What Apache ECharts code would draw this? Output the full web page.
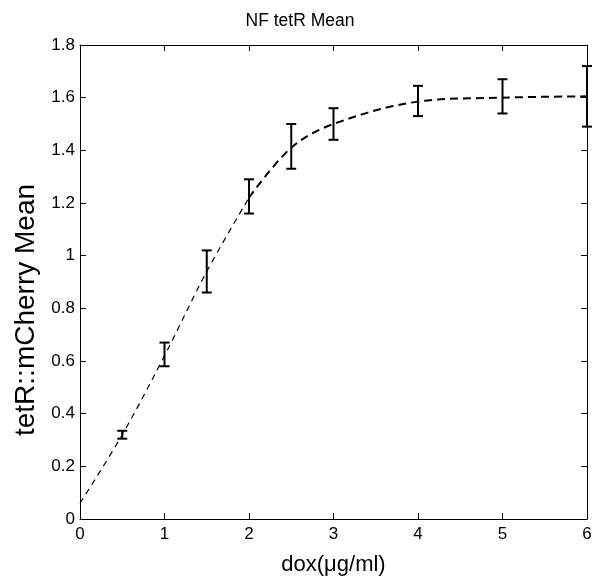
<!DOCTYPE html>
<html>
<head>
<meta charset="utf-8">
<script src="https://cdn.jsdelivr.net/npm/echarts@6/dist/echarts.min.js"></script>
<style>
  html, body { margin: 0; padding: 0; background: #fff; }
  #chart { width: 600px; height: 579px; }
</style>
</head>
<body>
<div id="chart"></div>
<script>
// dox concentration (ug/ml)
const dox = [0, 0.5, 1, 1.5, 2, 2.5, 3, 4, 5, 6];
// tetR::mCherry mean
const meanVals = [0.06, 0.32, 0.62, 0.94, 1.22, 1.41, 1.50, 1.585, 1.60, 1.605];
// error bar bounds
const errLow = [0.06, 0.305, 0.58, 0.86, 1.16, 1.33, 1.44, 1.53, 1.54, 1.49];
const errHigh = [0.06, 0.335, 0.67, 1.02, 1.29, 1.50, 1.56, 1.645, 1.67, 1.72];

const chart = echarts.init(document.getElementById('chart'));

const font = 'Liberation Sans, Arial, sans-serif';

const lineData = dox.map((x, i) => [x, meanVals[i]]);
const errData = dox.map((x, i) => [x, errLow[i], errHigh[i]]).filter((d, i) => i > 0);

function renderErr(params, api) {
  const x = api.value(0);
  const lo = api.coord([x, api.value(1)]);
  const hi = api.coord([x, api.value(2)]);
  const cap = 5;
  const style = { stroke: '#000', lineWidth: 2 };
  return {
    type: 'group',
    children: [
      { type: 'line', shape: { x1: lo[0], y1: lo[1], x2: hi[0], y2: hi[1] }, style: style },
      { type: 'line', shape: { x1: lo[0] - cap, y1: lo[1], x2: lo[0] + cap, y2: lo[1] }, style: style },
      { type: 'line', shape: { x1: hi[0] - cap, y1: hi[1], x2: hi[0] + cap, y2: hi[1] }, style: style }
    ]
  };
}

const tick = { inside: true, length: 6, lineStyle: { color: '#000', width: 1 } };
const axLine = { show: true, onZero: false, lineStyle: { color: '#000', width: 1 } };

const option = {
  animation: false,
  title: {
    text: 'NF tetR Mean',
    left: 'center',
    top: 7,
    textStyle: { fontFamily: font, fontSize: 17.5, fontWeight: 'normal', color: '#000' }
  },
  grid: { left: 80, right: 13, top: 45, bottom: 60, outerBoundsMode: 'none' },
  xAxis: [
    {
      type: 'value',
      min: 0, max: 6, interval: 1,
      name: 'dox(\u03bcg/ml)',
      nameLocation: 'middle',
      nameGap: 35,
      nameTextStyle: { fontFamily: font, fontSize: 22, color: '#000' },
      axisLine: axLine,
      axisTick: tick,
      axisLabel: { fontFamily: font, fontSize: 17, color: '#000', margin: 7 },
      splitLine: { show: false }
    },
    {
      type: 'value',
      position: 'top',
      min: 0, max: 6, interval: 1,
      axisLine: axLine,
      axisTick: tick,
      axisLabel: { show: false },
      splitLine: { show: false }
    }
  ],
  yAxis: [
    {
      type: 'value',
      min: 0, max: 1.8, interval: 0.2,
      name: 'tetR::mCherry Mean',
      nameLocation: 'middle',
      nameGap: 40,
      nameTextStyle: { fontFamily: font, fontSize: 28, color: '#000', padding: [0, 56, 0, 0] },
      axisLine: axLine,
      axisTick: tick,
      axisLabel: { fontFamily: font, fontSize: 17, color: '#000', margin: 5 },
      splitLine: { show: false }
    },
    {
      type: 'value',
      position: 'right',
      min: 0, max: 1.8, interval: 0.2,
      axisLine: axLine,
      axisTick: tick,
      axisLabel: { show: false },
      splitLine: { show: false }
    }
  ],
  series: [
    {
      name: 'mean low',
      type: 'line',
      smooth: 0.35,
      data: lineData.slice(0, 5),
      symbol: 'none',
      lineStyle: { color: '#000', width: 1.2, type: [6, 5] },
      z: 2
    },
    {
      name: 'mean high',
      type: 'line',
      smooth: 0.35,
      data: lineData.slice(4),
      symbol: 'none',
      lineStyle: { color: '#000', width: 2, type: [8, 5] },
      z: 2
    },
    {
      name: 'error',
      type: 'custom',
      renderItem: renderErr,
      data: errData,
      z: 3
    }
  ]
};

chart.setOption(option);
</script>
</body>
</html>
